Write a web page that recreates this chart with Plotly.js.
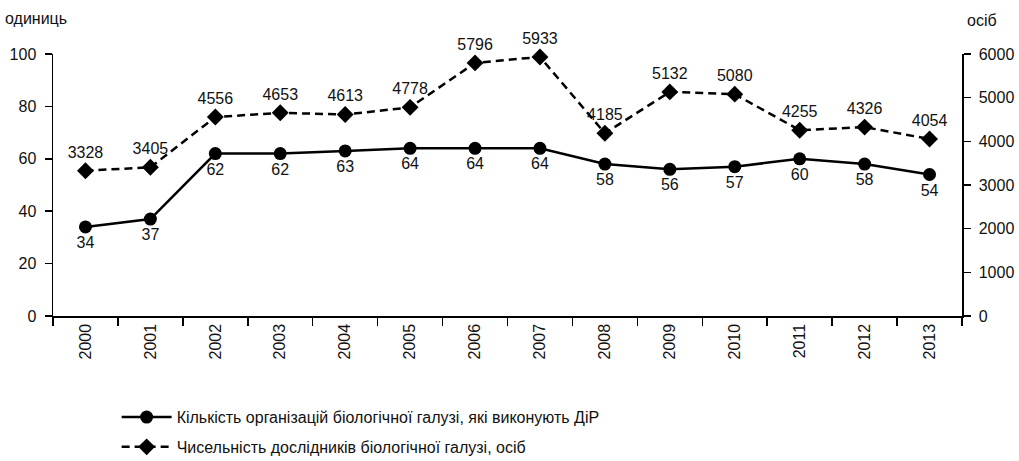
<!DOCTYPE html>
<html>
<head>
<meta charset="utf-8">
<script src="https://cdn.plot.ly/plotly-3.0.1.min.js"></script>
<style>html,body{margin:0;padding:0;background:#fff;}#chart{width:1019px;height:461px;}</style>
</head>
<body>
<div id="chart"></div>
<script>
const years = ['2000','2001','2002','2003','2004','2005','2006','2007','2008','2009','2010','2011','2012','2013'];
const organizations = [34, 37, 62, 62, 63, 64, 64, 64, 58, 56, 57, 60, 58, 54];
const researchers = [3328, 3405, 4556, 4653, 4613, 4778, 5796, 5933, 4185, 5132, 5080, 4255, 4326, 4054];
const seriesNames = ['Кількість організацій біологічної галузі, які виконують ДіР', 'Чисельність дослідників біологічної галузі, осіб'];
const leftTitle = 'одиниць';
const rightTitle = 'осіб';
const leftTicks = [0, 20, 40, 60, 80, 100];
const rightTicks = [0, 1000, 2000, 3000, 4000, 5000, 6000];

const FONT = '"Liberation Sans", Arial, sans-serif';
const tickFont = {family: FONT, size: 16, color: '#111'};

const traces = [
  {
    x: years, y: organizations, name: seriesNames[0], type: 'scatter',
    mode: 'lines+markers+text', text: organizations.map(String), textposition: 'bottom center',
    textfont: {family: FONT, size: 16, color: '#111'}, cliponaxis: false,
    line: {color: '#000', width: 2.5}, marker: {symbol: 'circle', size: 13, color: '#000'},
    yaxis: 'y', legendgroup: 'a'
  },
  {
    x: years, y: researchers, name: seriesNames[1], type: 'scatter',
    mode: 'lines+markers+text', text: researchers.map(String), textposition: 'top center',
    textfont: {family: FONT, size: 16, color: '#111'}, cliponaxis: false,
    line: {color: '#000', width: 2.5, dash: '8px,5px'}, marker: {symbol: 'diamond', size: 13, color: '#000'},
    yaxis: 'y2', legendgroup: 'b'
  }
];

const layout = {
  width: 1019, height: 461,
  margin: {l: 53, r: 57, t: 54, b: 145},
  paper_bgcolor: '#fff', plot_bgcolor: '#fff',
  showlegend: true,
  font: {family: FONT, size: 16, color: '#111'},
  xaxis: {
    type: 'category', tickson: 'boundaries', ticks: 'outside', ticklen: 8, tickwidth: 1.5, tickcolor: '#000',
    showline: true, linecolor: '#000', linewidth: 1.5, showgrid: false, zeroline: false,
    tickangle: -90, tickfont: tickFont, range: [-0.5, 13.5], automargin: false
  },
  xaxis2: {
    overlaying: 'x', range: [-0.5, 13.5], tickmode: 'array',
    tickvals: [-0.5,0.5,1.5,2.5,3.5,4.5,5.5,6.5,7.5,8.5,9.5,10.5,11.5,12.5,13.5],
    ticks: 'inside', ticklen: 8, tickwidth: 1.5, tickcolor: '#000', showticklabels: false,
    showgrid: false, zeroline: false, showline: false, anchor: 'y'
  },
  yaxis: {
    range: [0, 100], tickmode: 'array', tickvals: leftTicks, ticks: 'outside', ticklen: 7, tickwidth: 1.5, tickcolor: '#000',
    showline: true, linecolor: '#000', linewidth: 1.5, showgrid: false, zeroline: false, tickfont: tickFont,
    ticklabelstandoff: 5, automargin: false
  },
  yaxis2: {
    range: [0, 6000], tickmode: 'array', tickvals: rightTicks, overlaying: 'y', side: 'right',
    ticks: 'outside', ticklen: 7, tickwidth: 1.5, tickcolor: '#000',
    showline: true, linecolor: '#000', linewidth: 1.5, showgrid: false, zeroline: false, tickfont: tickFont,
    ticklabelstandoff: 5, automargin: false
  },
  yaxis3: {
    range: [0, 100], tickmode: 'array', tickvals: leftTicks, overlaying: 'y', side: 'left',
    ticks: 'inside', ticklen: 7, tickwidth: 1.5, tickcolor: '#000', showticklabels: false,
    showline: false, showgrid: false, zeroline: false
  },
  yaxis4: {
    range: [0, 6000], tickmode: 'array', tickvals: rightTicks, overlaying: 'y', side: 'right',
    ticks: 'inside', ticklen: 7, tickwidth: 1.5, tickcolor: '#000', showticklabels: false,
    showline: false, showgrid: false, zeroline: false
  },
  legend: {
    orientation: 'v', xref: 'paper', yref: 'container', x: 0.07, xanchor: 'left', y: 0.132, yanchor: 'top',
    font: {family: FONT, size: 16, color: '#111'}, traceorder: 'grouped', tracegroupgap: 6,
    itemwidth: 50, bgcolor: 'rgba(0,0,0,0)'
  },
  annotations: [
    {text: leftTitle, xref: 'paper', yref: 'paper', x: 0, y: 1, xshift: -50, yshift: 36, xanchor: 'left', yanchor: 'middle', showarrow: false, font: {family: FONT, size: 16, color: '#111'}},
    {text: rightTitle, xref: 'paper', yref: 'paper', x: 1, y: 1, xshift: 3, yshift: 34, xanchor: 'left', yanchor: 'middle', showarrow: false, font: {family: FONT, size: 16, color: '#111'}}
  ]
};

Plotly.newPlot('chart', traces, layout, {displayModeBar: false, staticPlot: true});
</script>
</body>
</html>
